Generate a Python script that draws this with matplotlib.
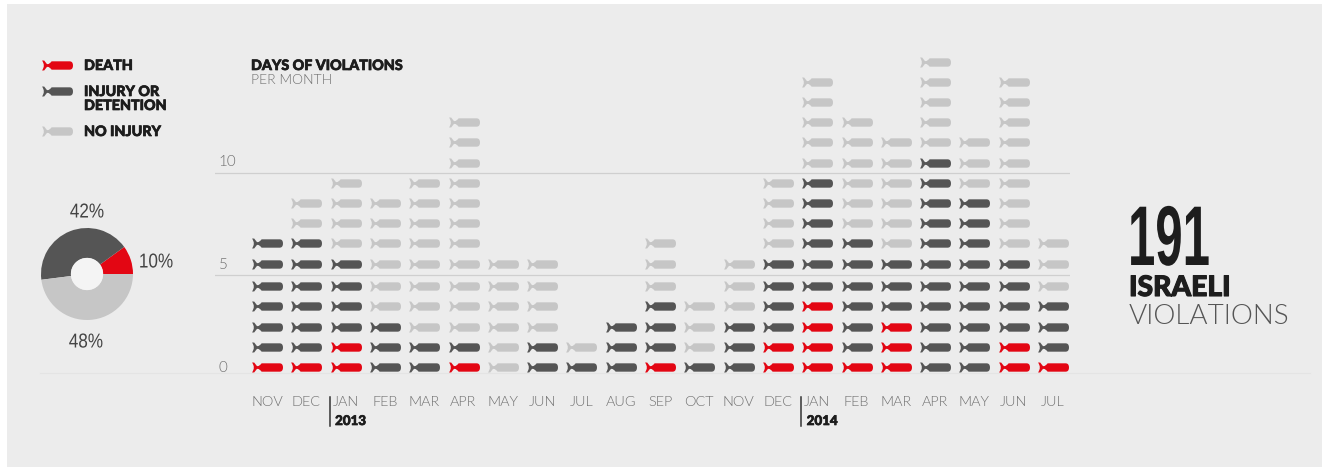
"""out.png — ISRAELI VIOLATIONS 월별 위반 일수 (폭탄 아이콘 스택 + 도넛)"""
import matplotlib
matplotlib.use("Agg")
import matplotlib.pyplot as plt
import matplotlib.patheffects as pe
from matplotlib.path import Path
from matplotlib.patches import Rectangle, Circle
from matplotlib.transforms import Affine2D

MONTHS = ["NOV", "DEC", "JAN", "FEB", "MAR", "APR", "MAY", "JUN", "JUL", "AUG", "SEP",
          "OCT", "NOV", "DEC", "JAN", "FEB", "MAR", "APR", "MAY", "JUN", "JUL"]
DEATH = [1, 1, 2, 0, 0, 1, 0, 0, 0, 0, 1, 0, 0, 2, 4, 1, 3, 0, 0, 2, 1]
INJURY = [6, 6, 4, 3, 2, 1, 0, 2, 1, 3, 3, 1, 3, 4, 6, 6, 3, 11, 9, 4, 3]
NO_INJURY = [0, 2, 4, 6, 8, 11, 6, 4, 1, 0, 3, 3, 3, 4, 5, 6, 6, 5, 3, 9, 3]
SHARE = [10, 42, 48]
SHARE_LABELS = ["10%", "42%", "48%"]
YEARS = ["2013", "2014"]
YEAR_POS = [2, 14]
TOTAL = "191"

W, H = 1324, 468
BG = "#ececec"
RED, DARK, LIGHT = "#e30613", "#555555", "#c6c6c6"
GREY = "#707070"
INK = "#1d1d1d"
SANS = ["Lato", "DejaVu Sans"]
ARIAL = ["Liberation Sans", "DejaVu Sans"]

# 폭탄 아이콘
BOMB = Path(
    [(-0.62, 0.09), (-0.52, 0.09), (-0.38, 0.27), (0.78, 0.27), (1, 0.27), (1, 0),
     (1, -0.27), (0.78, -0.27), (-0.38, -0.27), (-0.52, -0.09), (-0.62, -0.09),
     (-0.68, -0.09), (-0.86, -0.32), (-1, -0.32), (-0.76, 0), (-1, 0.32), (-0.86, 0.32),
     (-0.68, 0.09), (-0.62, 0.09)],
    [Path.MOVETO, Path.CURVE3, Path.CURVE3, Path.LINETO, Path.CURVE3, Path.CURVE3,
     Path.CURVE3, Path.CURVE3, Path.LINETO, Path.CURVE3, Path.CURVE3,
     Path.LINETO, Path.LINETO, Path.LINETO, Path.CURVE3, Path.CURVE3, Path.LINETO,
     Path.LINETO, Path.CLOSEPOLY])
BOMB_MS = 22.3


class Squeeze(pe.AbstractPathEffect):
    """글자를 가로로만 줄임 (condensed 폰트 대용)"""
    def __init__(self, sx, x0):
        super().__init__()
        self.sx, self.x0 = sx, x0

    def draw_path(self, renderer, gc, tpath, affine, rgbFace=None):
        t = Affine2D().translate(-self.x0, 0).scale(self.sx, 1).translate(self.x0, 0)
        renderer.draw_path(gc, tpath, affine + t, rgbFace)


def run():
    fig = plt.figure(figsize=(W / 100, H / 100), dpi=100, facecolor="white")
    fig.add_artist(Rectangle((7 / W, 1 / H), 1315 / W, 463 / H, transform=fig.transFigure,
                             fc=BG, ec="none", zorder=-1))

    # 픽셀 좌표 오버레이 (범례, 제목, 장식)
    ov = fig.add_axes([0, 0, 1, 1], facecolor="none")
    ov.set_xlim(0, W); ov.set_ylim(H, 0); ov.axis("off")

    def txt(x, y, s, size, color=INK, weight="normal", ha="left", family=SANS, **kw):
        return ov.text(x, y, s, fontsize=size, color=color, fontweight=weight, ha=ha, va="center",
                       family=family, **kw)

    def heavy(x, y, s, size, stroke=0.5):
        return txt(x, y, s, size, weight="black",
                   path_effects=[pe.withStroke(linewidth=stroke, foreground=INK)])

    ov.plot([40, 1310], [373, 373], color="#e4e4e4", lw=0.8)
    for y, c in zip([65, 91, 131], [RED, DARK, LIGHT]):
        ov.plot([57], [y], ls="none", marker=BOMB, ms=BOMB_MS, mew=0, color=c)
    heavy(84, 66, "DEATH", 10.3)
    heavy(84, 92, "INJURY OR", 10.3)
    heavy(84, 106, "DETENTION", 10.3)
    heavy(84, 132, "NO INJURY", 10.3)
    heavy(251, 66, "DAYS OF VIOLATIONS", 10.3)
    txt(251, 80, "PER MONTH", 10, color=GREY, weight=300)

    # 메인: 월별 스택
    x0, x1, y_top, y_bot = 215, 1070, 40, 390
    ax = fig.add_axes([x0 / W, (H - y_bot) / H, (x1 - x0) / W, (y_bot - y_top) / H], facecolor="none")
    ax.set_xlim((x0 - 267) / 39.3, (x1 - 267) / 39.3)
    ax.set_ylim((367 - y_bot) / 20.2, (367 - y_top) / 20.2)
    for s in ax.spines.values():
        s.set_visible(False)

    for level in (4.55, 9.6):
        ax.axhline(level, color="#cfcfcf", lw=0.9, zorder=1)

    for i, (d, n, o) in enumerate(zip(DEATH, INJURY, NO_INJURY)):
        kinds = [RED] * d + [DARK] * n + [LIGHT] * o
        for row, c in enumerate(kinds):
            # 5 선 위쪽은 살짝 띄움
            y = row + (0.12 if row >= 5 else 0)
            ax.plot([i], [y], ls="none", marker=BOMB, ms=BOMB_MS, mew=0, color=c, zorder=3)

    ax.set_xticks(range(len(MONTHS)))
    ax.set_xticklabels(MONTHS, fontsize=10.4, color=GREY, family=SANS, fontweight=300)
    ax.set_yticks([0, 5.12, 10.2])
    ax.set_yticklabels(["0", "5", "10"], fontsize=11, color=GREY, family=SANS, fontweight=300, ha="left")
    ax.tick_params(axis="both", length=0)
    ax.tick_params(axis="x", pad=4.5)
    ax.tick_params(axis="y", pad=-2.5)

    for pos, year in zip(YEAR_POS, YEARS):
        px = 267 + pos * 39.3
        ov.plot([px - 16, px - 16], [397, 426], color="#333333", lw=1.1)
        heavy(px - 10.5, 421, year, 9.6)

    # 도넛
    cx, cy, r = 87, 274, 46
    pa = fig.add_axes([(cx - r) / W, (H - cy - r) / H, 2 * r / W, 2 * r / H])
    pa.pie(SHARE, colors=[RED, DARK, LIGHT], startangle=0, radius=1, counterclock=True,
           wedgeprops=dict(width=0.65, linewidth=0))
    pa.add_patch(Circle((0, 0), 0.35, fc="#f4f4f4", ec="none"))
    pa.set_xlim(-1, 1); pa.set_ylim(-1, 1)
    for (x, y), s in zip([(156, 262), (87, 212), (86, 342)], SHARE_LABELS):
        t = txt(x, y, s, 14.5, color="#444444", ha="center", family=ARIAL)
        t.set_path_effects([Squeeze(0.85, x)])

    # 총계
    t = txt(1128, 243, TOTAL, 61, weight="bold", family=ARIAL)
    t.set_path_effects([Squeeze(0.58, 1128)])
    heavy(1129, 288, "ISRAELI", 20.3, stroke=0.8)
    txt(1129, 316, "VIOLATIONS", 20, color="#555555", weight=300)

    fig.savefig("out.png", dpi=100, facecolor=fig.get_facecolor())
    plt.close(fig)


if __name__ == "__main__":
    run()
